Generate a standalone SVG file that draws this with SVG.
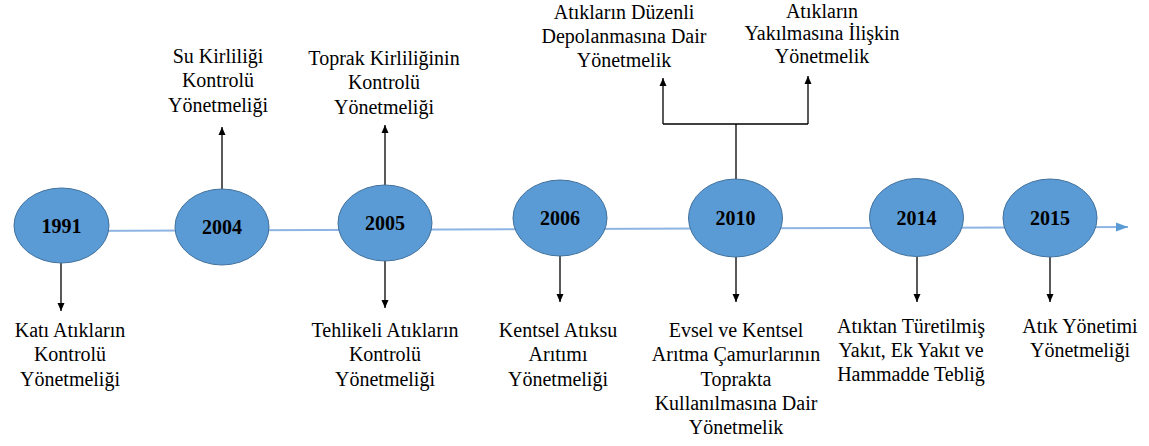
<svg xmlns="http://www.w3.org/2000/svg" width="1149" height="446" viewBox="0 0 1149 446">
  <style>
    .year { fill: #5B9BD5; stroke: #41719C; stroke-width: 1; }
    .ylabel { font-family: "Liberation Serif", "Times New Roman", serif; font-weight: bold; font-size: 20px; fill: #000; text-anchor: middle; }
    .lbl { font-family: "Liberation Serif", "Times New Roman", serif; font-size: 20px; fill: #000; text-anchor: middle; }
    .conn { stroke: #000; stroke-width: 1.3; fill: none; }
    .axis { stroke: #8DB4E2; stroke-width: 2; fill: none; }
  </style>
  <defs>
    <marker id="ah" markerUnits="userSpaceOnUse" markerWidth="8" markerHeight="8" viewBox="0 0 8 8" refX="8" refY="4" orient="auto">
      <path d="M0,0.5 L8,4 L0,7.5 Z" fill="#000"/>
    </marker>
    <marker id="ahBlue" markerUnits="userSpaceOnUse" markerWidth="12" markerHeight="10" viewBox="0 0 12 10" refX="12" refY="5" orient="auto">
      <path d="M0,0.5 L12,5 L0,9.5 Z" fill="#5B9BD5"/>
    </marker>
  </defs>

  <!-- timeline axis and connectors -->
  <g id="connectors">
    <line class="axis" x1="62" y1="231" x2="1128" y2="227" marker-end="url(#ahBlue)"/>
    <line class="conn" x1="61" y1="263" x2="61" y2="311" marker-end="url(#ah)"/>
    <line class="conn" x1="222" y1="189" x2="222" y2="127" marker-end="url(#ah)"/>
    <line class="conn" x1="385" y1="185" x2="385" y2="125" marker-end="url(#ah)"/>
    <line class="conn" x1="385" y1="261" x2="385" y2="308" marker-end="url(#ah)"/>
    <line class="conn" x1="560" y1="256" x2="560" y2="302" marker-end="url(#ah)"/>
    <line class="conn" x1="736" y1="179" x2="736" y2="124"/>
    <line class="conn" x1="663" y1="124" x2="808" y2="124"/>
    <line class="conn" x1="663" y1="124" x2="663" y2="78" marker-end="url(#ah)"/>
    <line class="conn" x1="808" y1="124" x2="808" y2="76" marker-end="url(#ah)"/>
    <line class="conn" x1="736" y1="257" x2="736" y2="302" marker-end="url(#ah)"/>
    <line class="conn" x1="917" y1="257" x2="917" y2="302" marker-end="url(#ah)"/>
    <line class="conn" x1="1050" y1="257" x2="1050" y2="302" marker-end="url(#ah)"/>
  </g>

  <g id="y1991">
    <ellipse class="year" cx="61.5" cy="225.5" rx="47.5" ry="37.5"/>
    <text class="ylabel" x="61.5" y="233">1991</text>
  </g>
  <g id="y2004">
    <ellipse class="year" cx="222" cy="227" rx="47" ry="38"/>
    <text class="ylabel" x="222" y="234">2004</text>
  </g>
  <g id="y2005">
    <ellipse class="year" cx="385" cy="223" rx="47" ry="38"/>
    <text class="ylabel" x="385" y="230">2005</text>
  </g>
  <g id="y2006">
    <ellipse class="year" cx="560" cy="218" rx="47" ry="38"/>
    <text class="ylabel" x="560" y="225">2006</text>
  </g>
  <g id="y2010">
    <ellipse class="year" cx="735.5" cy="218" rx="47" ry="39"/>
    <text class="ylabel" x="735.5" y="225">2010</text>
  </g>
  <g id="y2014">
    <ellipse class="year" cx="916.5" cy="217.5" rx="47" ry="39"/>
    <text class="ylabel" x="916.5" y="225">2014</text>
  </g>
  <g id="y2015">
    <ellipse class="year" cx="1050" cy="218" rx="47" ry="39"/>
    <text class="ylabel" x="1050" y="225">2015</text>
  </g>

  <!-- regulation labels -->
  <g id="r1991">
    <text class="lbl" x="70" y="337">Katı Atıkların</text>
    <text class="lbl" x="70" y="361">Kontrolü</text>
    <text class="lbl" x="70" y="386">Yönetmeliği</text>
  </g>
  <g id="r2004">
    <text class="lbl" x="218" y="63">Su Kirliliği</text>
    <text class="lbl" x="218" y="87">Kontrolü</text>
    <text class="lbl" x="218" y="112">Yönetmeliği</text>
  </g>
  <g id="r2005a">
    <text class="lbl" x="384" y="65">Toprak Kirliliğinin</text>
    <text class="lbl" x="384" y="89">Kontrolü</text>
    <text class="lbl" x="384" y="114">Yönetmeliği</text>
  </g>
  <g id="r2005b">
    <text class="lbl" x="385" y="337">Tehlikeli Atıkların</text>
    <text class="lbl" x="385" y="361">Kontrolü</text>
    <text class="lbl" x="385" y="386">Yönetmeliği</text>
  </g>
  <g id="r2006">
    <text class="lbl" x="558" y="337">Kentsel Atıksu</text>
    <text class="lbl" x="558" y="361">Arıtımı</text>
    <text class="lbl" x="558" y="386">Yönetmeliği</text>
  </g>
  <g id="r2010a">
    <text class="lbl" x="624" y="19">Atıkların Düzenli</text>
    <text class="lbl" x="624" y="43">Depolanmasına Dair</text>
    <text class="lbl" x="624" y="67">Yönetmelik</text>
  </g>
  <g id="r2010b">
    <text class="lbl" x="822" y="18">Atıkların</text>
    <text class="lbl" x="822" y="40">Yakılmasına İlişkin</text>
    <text class="lbl" x="822" y="63">Yönetmelik</text>
  </g>
  <g id="r2010c">
    <text class="lbl" x="736" y="337">Evsel ve Kentsel</text>
    <text class="lbl" x="736" y="361">Arıtma Çamurlarının</text>
    <text class="lbl" x="736" y="386">Toprakta</text>
    <text class="lbl" x="736" y="410">Kullanılmasına Dair</text>
    <text class="lbl" x="736" y="434">Yönetmelik</text>
  </g>
  <g id="r2014">
    <text class="lbl" x="911" y="333">Atıktan Türetilmiş</text>
    <text class="lbl" x="911" y="357">Yakıt, Ek Yakıt ve</text>
    <text class="lbl" x="911" y="381">Hammadde Tebliğ</text>
  </g>
  <g id="r2015">
    <text class="lbl" x="1080" y="333">Atık Yönetimi</text>
    <text class="lbl" x="1080" y="357">Yönetmeliği</text>
  </g>
</svg>
